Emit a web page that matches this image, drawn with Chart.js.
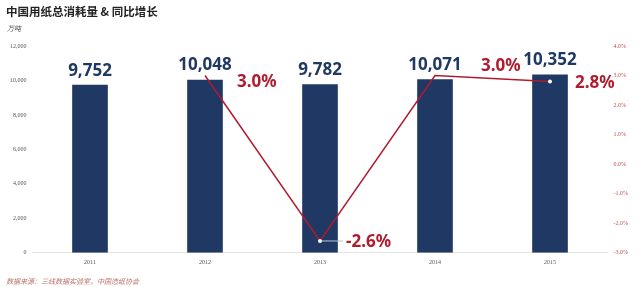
<!DOCTYPE html>
<html>
<head>
<meta charset="utf-8">
<script src="https://cdn.jsdelivr.net/npm/chart.js@4.4.0/dist/chart.umd.min.js"></script>
<style>
  html, body { margin: 0; padding: 0; background: #fff; }
  #wrap { position: relative; width: 640px; height: 287px; overflow: hidden; font-family: "Noto Sans CJK SC", "Noto Sans", sans-serif; }
  #title { position: absolute; left: 6px; top: 3px; font-size: 11.5px; font-weight: bold; color: #222; }
  #unit { position: absolute; left: 7px; top: 23px; font-size: 7px; font-style: italic; color: #444; }
  #source { position: absolute; left: 6px; top: 276px; font-size: 7px; font-style: italic; color: #b9706a; }
  #chartBox { position: absolute; left: 0; top: 0; width: 640px; height: 287px; }
</style>
</head>
<body>
<div id="wrap">
  <div id="chartBox"><canvas id="paperChart"></canvas></div>
  <div id="title">中国用纸总消耗量 &amp; 同比增长</div>
  <div id="unit">万吨</div>
  <div id="source">数据来源：三线数据实验室，中国造纸协会</div>
</div>
<script>
// data
const years = ['2011', '2012', '2013', '2014', '2015'];
const consumption = [9752, 10048, 9782, 10071, 10352];   // 万吨
const growth = [null, 3.0, -2.6, 3.0, 2.8];               // %

const navy = '#1f3864';
const red = '#b01c2e';

// where each growth label starts relative to its point
const growthLabelPos = [null, { dx: 32, dy: 7 }, { dx: 26, dy: 1 }, { dx: 46, dy: -9 }, { dx: 25, dy: 2 }];

const labelPlugin = {
  id: 'labels',
  afterDatasetsDraw(chart) {
    const ctx = chart.ctx;
    ctx.save();
    ctx.textBaseline = 'middle';

    // bar values
    const bars = chart.getDatasetMeta(0).data;
    ctx.font = 'bold 17px "Noto Sans", sans-serif';
    ctx.fillStyle = navy;
    ctx.textAlign = 'center';
    bars.forEach((b, i) => {
      ctx.fillText(consumption[i].toLocaleString('en-US'), b.x, b.y - 14);
    });

    // growth values
    const pts = chart.getDatasetMeta(1).data;
    ctx.textAlign = 'left';
    pts.forEach((p, i) => {
      if (growth[i] === null) return;
      const pos = growthLabelPos[i];
      if (i === 2) {
        ctx.strokeStyle = '#b8c4d8';
        ctx.lineWidth = 1;
        ctx.beginPath();
        ctx.moveTo(p.x + 2, p.y);
        ctx.lineTo(p.x + 23, p.y);
        ctx.stroke();
      }
      ctx.fillStyle = red;
      ctx.font = 'bold 17px "Noto Sans", sans-serif';
      ctx.fillText(growth[i].toFixed(1) + '%', p.x + pos.dx, p.y + pos.dy);
    });
    ctx.restore();
  }
};

new Chart(document.getElementById('paperChart'), {
  data: {
    labels: years,
    datasets: [
      {
        type: 'bar',
        data: consumption,
        backgroundColor: navy,
        barPercentage: 0.62,
        categoryPercentage: 0.5,
        yAxisID: 'y',
        order: 2
      },
      {
        type: 'line',
        data: growth,
        borderColor: red,
        borderWidth: 1.5,
        pointRadius: [0, 0, 2, 0, 2],
        pointBackgroundColor: '#fff',
        pointBorderWidth: 0,
        tension: 0,
        yAxisID: 'y1',
        order: 1
      }
    ]
  },
  options: {
    responsive: true,
    maintainAspectRatio: false,
    animation: false,
    layout: { padding: { top: 46, bottom: 15, left: 4, right: 6 } },
    plugins: {
      legend: { display: false },
      tooltip: { enabled: false }
    },
    scales: {
      x: {
        grid: { display: false, drawTicks: false },
        border: { color: '#e3e3e3' },
        ticks: { color: '#555', font: { family: 'Liberation Serif', size: 6 }, padding: 6 }
      },
      y: {
        position: 'left',
        min: 0,
        max: 12000,
        ticks: {
          stepSize: 2000,
          color: '#555',
          padding: 6,
          font: { family: 'Liberation Serif', size: 6 },
          callback: v => v.toLocaleString('en-US')
        },
        grid: { display: false, drawTicks: false },
        border: { display: false }
      },
      y1: {
        position: 'right',
        min: -3,
        max: 4,
        ticks: {
          stepSize: 1,
          color: '#c0504d',
          padding: 6,
          font: { family: 'Liberation Serif', size: 6 },
          callback: v => v.toFixed(1) + '%'
        },
        grid: { display: false, drawTicks: false },
        border: { display: false }
      }
    }
  },
  plugins: [labelPlugin]
});
</script>
</body>
</html>
